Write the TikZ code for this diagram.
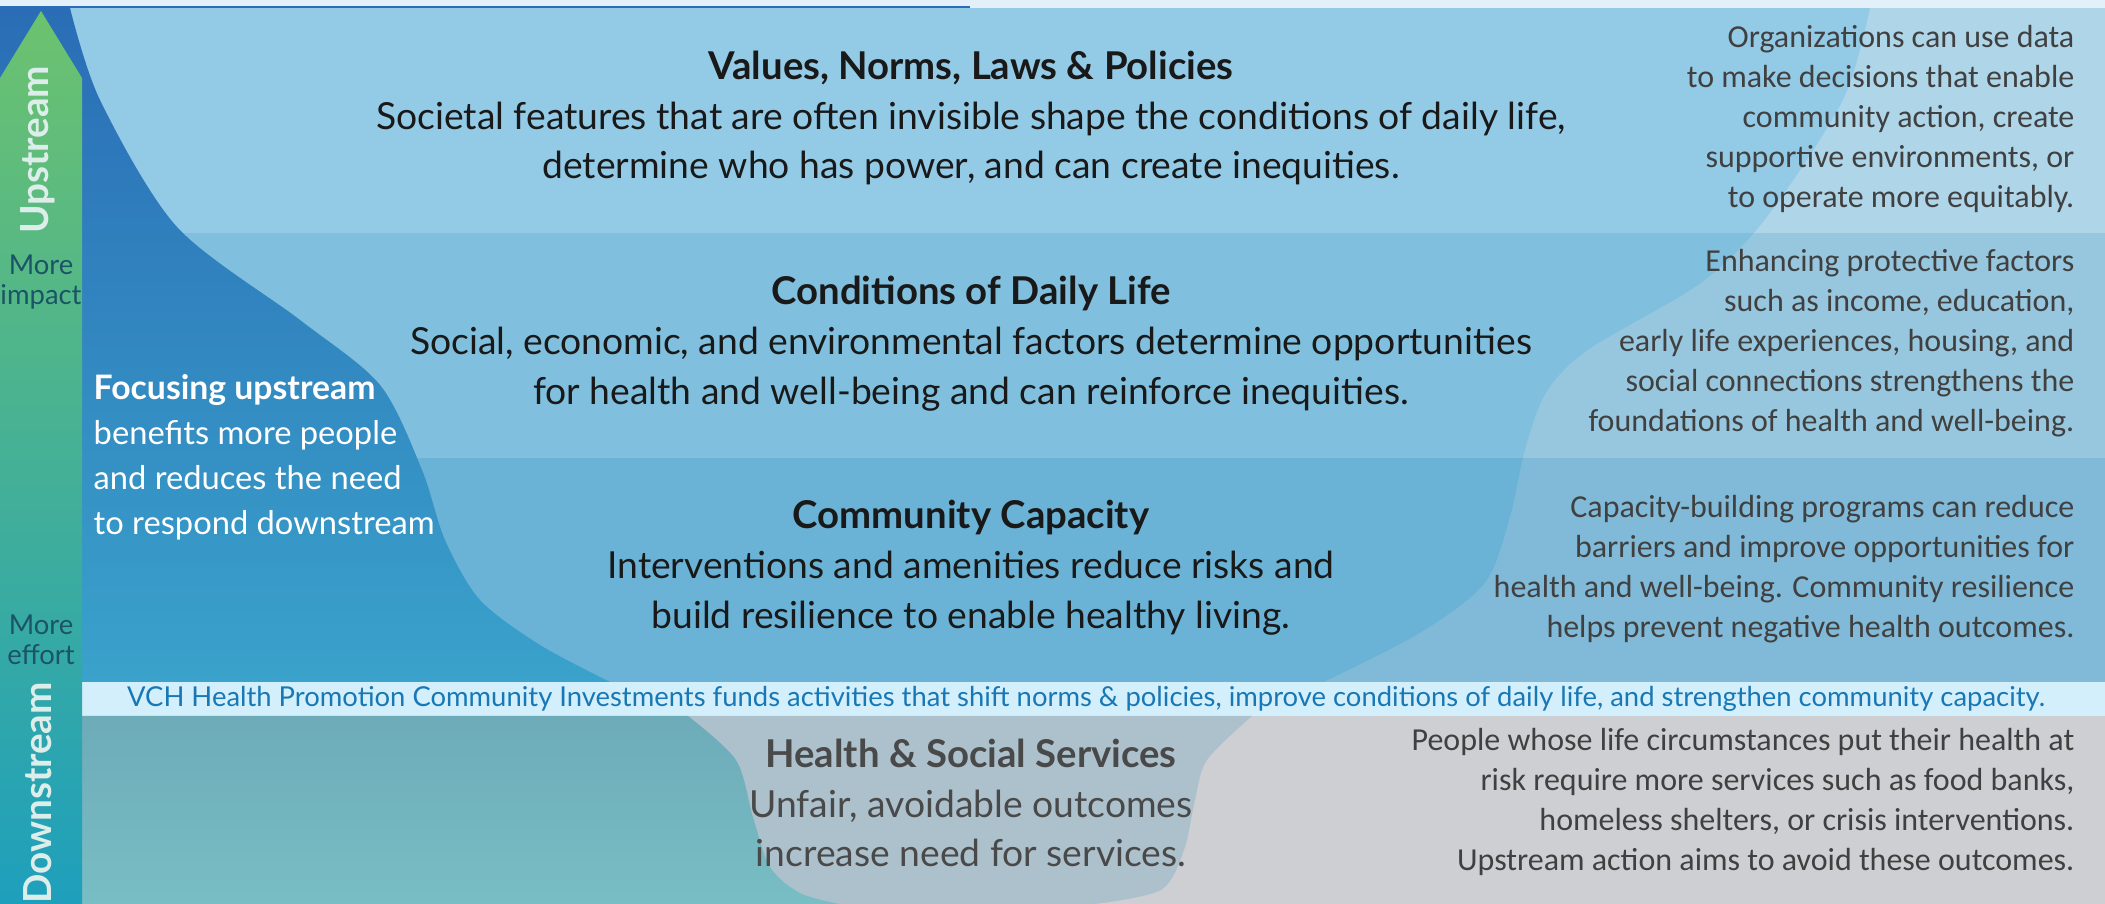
\documentclass[tikz,border=0pt]{standalone}
\usepackage{fontspec}
\setmainfont{Lato}
\newfontfamily\calfont{Carlito}
\usetikzlibrary{positioning}

\definecolor{topstrip}{HTML}{E3F0F9}
\definecolor{bandtop}{HTML}{93CAE6}
\definecolor{bandmid}{HTML}{80BFDD}
\definecolor{bandlow}{HTML}{6BB3D6}
\definecolor{bandtopR}{HTML}{AFD5E9}
\definecolor{bandmidR}{HTML}{97C7DF}
\definecolor{bandlowR}{HTML}{80BAD8}
\definecolor{stripfill}{HTML}{D4EFFC}
\definecolor{striptext}{HTML}{1778B5}
\definecolor{greyfill}{HTML}{CDCFD2}
\definecolor{slatefill}{HTML}{ADC1CC}
\definecolor{tealtop}{HTML}{6DABB9}
\definecolor{tealbot}{HTML}{79BEC4}
\definecolor{deepblue}{HTML}{2A6DB6}
\definecolor{deepblueB}{HTML}{3AA2CB}
\definecolor{bargreen}{HTML}{6CC26E}
\definecolor{barmid}{HTML}{3AAB8E}
\definecolor{barteal}{HTML}{1E9FBC}
\definecolor{sidenote}{HTML}{1B5466}
\definecolor{darktext}{HTML}{404040}
\definecolor{bartext}{HTML}{DDEEEA}

\newcommand{\bandtitle}[1]{{\bfseries\fontsize{10.9}{14.2}\selectfont #1}}

\tikzset{
  maintext/.style={font=\fontsize{10.6}{14.2}\selectfont, align=center, inner sep=0pt, text=black!90},
  greytext/.style={maintext, text=darktext!95},
  notetext/.style={font=\calfont\fontsize{9.1}{11.4}\selectfont, align=right, inner sep=0pt, anchor=east, text=darktext},
  focustext/.style={font=\fontsize{9.3}{12.8}\selectfont, align=left, inner sep=0pt, anchor=west, text=white},
  barlabel/.style={font=\bfseries\fontsize{11}{13}\selectfont, rotate=90, inner sep=0pt, text=bartext},
  sidelabel/.style={font=\fontsize{7.8}{8.5}\selectfont, align=center, inner sep=0pt, text=sidenote},
}

\begin{document}
\begin{tikzpicture}[x=0.1mm, y=-0.1mm]
        \useasboundingbox (0,0) rectangle (2105,904);

        % Bands
        \fill[topstrip] (0,0) rectangle (2105,8);
        \draw[deepblue, line width=0.25mm] (0,7) -- (970,7);
        \fill[bandtop] (0,8) rectangle (2105,233);
        \fill[bandmid] (0,233) rectangle (2105,458);
        \fill[bandlow] (0,458) rectangle (2105,682);

        % Lighter wave on the right
        \begin{scope}
          \clip plot[smooth] coordinates {(1870,8) (1843,100) (1767,217) (1701,283) (1588,350) (1546,393) (1525,450) (1510,517) (1485,583) (1420,633) (1324,682)}
            -- (2105,682) -- (2105,8) -- cycle;
          \fill[bandtopR] (0,8) rectangle (2105,233);
          \fill[bandmidR] (0,233) rectangle (2105,458);
          \fill[bandlowR] (0,458) rectangle (2105,682);
        \end{scope}

        % Upstream wave on the left
        \shade[top color=deepblue, bottom color=deepblueB] (0,8)
          -- plot[smooth] coordinates {(70,8) (100,100) (177,227) (300,320) (380,385) (422,470) (445,540) (480,600) (540,645) (610,682)}
          -- (0,682) -- cycle;

        % Funding strip
        \fill[stripfill] (0,682) rectangle (2105,716);

        % Downstream part
        \fill[greyfill] (0,716) rectangle (2105,904);
        \fill[slatefill] plot[smooth] coordinates {(688,716) (736,760) (753,817) (770,867) (800,893) (840,904)}
          -- plot[smooth] coordinates {(1095,904) (1161,890) (1184,850) (1195,800) (1207,760) (1252,716)} -- cycle;
        \shade[top color=tealtop, bottom color=tealbot] (0,716)
          -- plot[smooth] coordinates {(688,716) (736,760) (753,817) (770,867) (800,893) (840,904)}
          -- (0,904) -- cycle;

        % Arrow bar
        \shade[top color=bargreen, middle color=barmid, bottom color=barteal]
          (0,78) -- (41,11) -- (82,78) -- (82,904) -- (0,904) -- cycle;

        % Nodes
        \node[barlabel] (up) at (38,150) {Upstream};
        \node[barlabel] (down) at (38,793) {Downstream};
        \node[sidelabel] (impact) at (41,282) {More\\impact};
        \node[sidelabel] (effort) at (41,640) {More\\effort};

        \node[maintext] (values) at (971,118) {\bandtitle{Values, Norms, Laws \& Policies}\\
          Societal features that are often invisible shape the conditions of daily life,\\
          determine who has power, and can create inequities.};
        \node[maintext] (daily) at (971,344) {\bandtitle{Conditions of Daily Life}\\
          Social, economic, and environmental factors determine opportunities\\
          for health and well-being and can reinforce inequities.};
        \node[maintext] (capacity) at (971,568) {\bandtitle{Community Capacity}\\
          Interventions and amenities reduce risks and\\
          build resilience to enable healthy living.};
        \node[greytext] (services) at (971,803) {\bandtitle{Health \& Social Services}\\
          Unfair, avoidable outcomes\\
          increase need for services.};

        \node[focustext] (focus) at (93,457) {{\bfseries\fontsize{9.6}{12.8}\selectfont Focusing upstream}\\
          benefits more people\\
          and reduces the need\\
          to respond downstream};

        \node[font=\fontsize{7.8}{9}\selectfont, text=striptext, inner sep=0pt] (funds) at (1086,699)
          {VCH Health Promotion Community Investments funds activities that shift norms \& policies, improve conditions of daily life, and strengthen community capacity.};

        \node[notetext] (valuesnote) at (2075,119) {Organizations can use data\\
          to make decisions that enable\\
          community action, create\\
          supportive environments, or\\
          to operate more equitably.};
        \node[notetext] (dailynote) at (2075,343) {Enhancing protective factors\\
          such as income, education,\\
          early life experiences, housing, and\\
          social connections strengthens the\\
          foundations of health and well-being.};
        \node[notetext] (capacitynote) at (2075,569) {Capacity-building programs can reduce\\
          barriers and improve opportunities for\\
          health and well-being. Community resilience\\
          helps prevent negative health outcomes.};
        \node[notetext] (servicesnote) at (2075,802) {People whose life circumstances put their health at\\
          risk require more services such as food banks,\\
          homeless shelters, or crisis interventions.\\
          Upstream action aims to avoid these outcomes.};
    \end{tikzpicture}
\end{document}
